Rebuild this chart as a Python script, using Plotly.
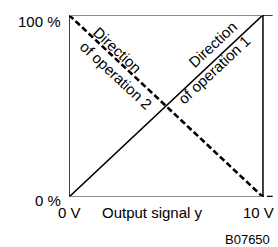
import plotly.graph_objects as go

# Data
voltage = [0, 10, 10.5]           # output signal y in V
dir1 = [0, 100, 100]              # direction of operation 1 (%)
dir2 = [100, 0, 0]                # direction of operation 2 (%)
x_ticks = ["0 V", "10 V"]
y_ticks = ["0 %", "100 %"]

FONT = "Liberation Sans, Arial, sans-serif"
W, H = 278, 247
ML, MR, MT, MB = 69, 3, 15, 50
XR = [0, 10.62]
PW, PH = W - ML - MR, H - MT - MB

fig = go.Figure()
fig.add_trace(go.Scatter(x=voltage, y=dir1, mode="lines",
                         line=dict(color="black", width=1.6), hoverinfo="skip"))
fig.add_trace(go.Scatter(x=voltage, y=dir2, mode="lines",
                         line=dict(color="black", width=2.6, dash="6px,3px"), hoverinfo="skip"))

shapes = [
    dict(type="line", xref="x", yref="y", x0=0, x1=10, y0=100, y1=100, line=dict(color="#8a8a8a", width=2)),
    dict(type="line", xref="x", yref="y", x0=0, x1=10, y0=0, y1=0, line=dict(color="#8a8a8a", width=2)),
    dict(type="line", xref="x", yref="y", x0=0, x1=0, y0=0, y1=100, line=dict(color="black", width=1.5)),
    dict(type="line", xref="x", yref="y", x0=10, x1=10, y0=0, y1=100, line=dict(color="black", width=1.5)),
]

# page pixel -> paper coordinates
def px(p):
    return (p - ML) / PW

def py(p):
    return (H - MB - p) / PH

def vx(v):
    return (v - XR[0]) / (XR[1] - XR[0])

ann = []
f = dict(family=FONT, size=15, color="black")
def add(x, y, text, **kw):
    d = dict(x=x, y=y, xref="paper", yref="paper", text=text, showarrow=False,
             xanchor="center", yanchor="middle", font=f)
    d.update(kw)
    ann.append(d)

add(px(63), py(22), y_ticks[1], xanchor="right")
add(px(63), py(200), y_ticks[0], xanchor="right")
add(vx(voltage[0]), py(213), x_ticks[0])
add(px(258), py(213), x_ticks[1])
add(px(152), py(213), "Output signal y")
add(px(247), py(239), "B07650", font=dict(family=FONT, size=13, color="black"))
add(px(208), py(63), "Direction<br>of operation 1", textangle=-43, align="right")
add(px(123), py(68), "Direction<br>of operation 2", textangle=43, align="left")

fig.update_layout(
    width=W, height=H, margin=dict(l=ML, r=MR, t=MT, b=MB),
    paper_bgcolor="white", plot_bgcolor="white", showlegend=False,
    xaxis=dict(range=XR, visible=False, fixedrange=True),
    yaxis=dict(range=[0, 100], visible=False, fixedrange=True),
    shapes=shapes, annotations=ann,
)
fig.write_html(
    "out.html",
    config={"displayModeBar": False, "staticPlot": True},
    post_script="document.body.style.margin='0';document.body.style.overflow='hidden';",
)
